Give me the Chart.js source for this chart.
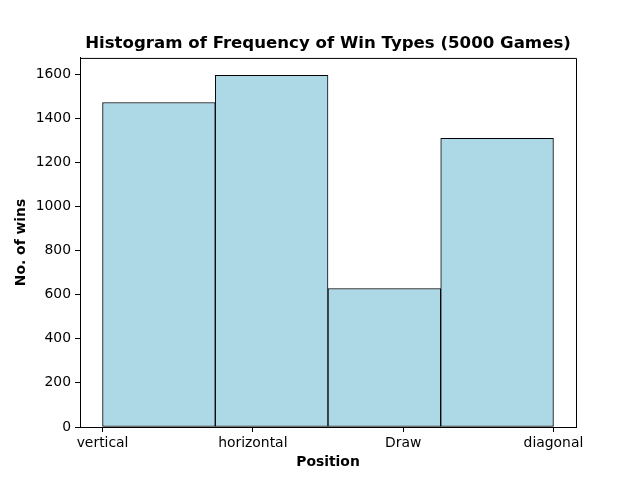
<!DOCTYPE html>
<html>
<head>
<meta charset="utf-8">
<script src="https://cdn.jsdelivr.net/npm/chart.js@4/dist/chart.umd.min.js"></script>
<style>
  body { margin: 0; background: #fff; }
</style>
</head>
<body>
<canvas id="hist" width="640" height="480"></canvas>
<script>
// categories sit at 0,1,2,3 on the x axis; 4 equal bins from 0 to 3
const categories = ["vertical", "horizontal", "Draw", "diagonal"];
const binEdges = [0, 0.75, 1.5, 2.25, 3];
const counts = [1471, 1594, 628, 1309];
const yTicks = [0, 200, 400, 600, 800, 1000, 1200, 1400, 1600];

Chart.defaults.font.family = "'DejaVu Sans', sans-serif";
Chart.defaults.color = "#000";

const points = counts.map((c, i) => ({ x: (binEdges[i] + binEdges[i + 1]) / 2, y: c }));

new Chart(document.getElementById("hist"), {
    type: "bar",
    data: {
        datasets: [
            {
                data: points,
                backgroundColor: "#add8e6",
                borderColor: "#000",
                borderWidth: 1,
                borderSkipped: false,
                barPercentage: 1,
                categoryPercentage: 1
            }
        ]
    },
    options: {
        responsive: false,
        animation: false,
        devicePixelRatio: 1,
        layout: { padding: { top: 34, right: 0, bottom: 0, left: 16 } },
        plugins: {
            legend: { display: false },
            tooltip: { enabled: false },
            title: {
                display: true,
                text: "Histogram of Frequency of Win Types (5000 Games)",
                font: { size: 16.6, weight: "bold" },
                padding: { top: 0, bottom: 4 }
            }
        },
        scales: {
            x: {
                type: "linear",
                min: -0.15,
                max: 3.15,
                offset: false,
                afterBuildTicks: (s) => { s.ticks = categories.map((c, i) => ({ value: i })); },
                afterFit: (s) => { s.height = 53; },
                ticks: {
                    autoSkip: false,
                    maxRotation: 0,
                    padding: 3,
                    font: { size: 13.9 },
                    callback: (v) => categories[v]
                },
                grid: { offset: false, drawOnChartArea: false, tickLength: 5, color: "#000" },
                border: { color: "#000" },
                title: {
                    display: true,
                    text: "Position",
                    font: { size: 13.9, weight: "bold" },
                    padding: { top: 2, bottom: 9 }
                }
            },
            y: {
                min: 0,
                max: 1673,
                afterBuildTicks: (s) => { s.ticks = yTicks.map(v => ({ value: v })); },
                afterFit: (s) => { s.width = 64; },
                ticks: { padding: 4, font: { size: 13.9 }, callback: (v) => String(v) },
                grid: { drawOnChartArea: false, tickLength: 5, color: "#000" },
                border: { color: "#000" },
                title: {
                    display: true,
                    text: "No. of wins",
                    font: { size: 13.9, weight: "bold" },
                    padding: { top: -3, bottom: 6 }
                }
            },
            // empty right-hand spacer so the title centres over the plot
            yr: {
                position: "right",
                min: 0,
                max: 1673,
                afterFit: (s) => { s.width = 64; },
                ticks: { display: false },
                grid: { display: false },
                border: { display: false }
            }
        }
    },
    plugins: [{
        // close the box on top and right like the axes frame
        id: "frame",
        afterDraw(chart) {
            const a = chart.chartArea, ctx = chart.ctx;
            ctx.save();
            ctx.strokeStyle = "#000";
            ctx.lineWidth = 1;
            ctx.beginPath();
            ctx.moveTo(a.left, a.top + 0.5);
            ctx.lineTo(a.right + 0.5, a.top + 0.5);
            ctx.lineTo(a.right + 0.5, a.bottom);
            ctx.stroke();
            ctx.restore();
        }
    }]
});
</script>
</body>
</html>
